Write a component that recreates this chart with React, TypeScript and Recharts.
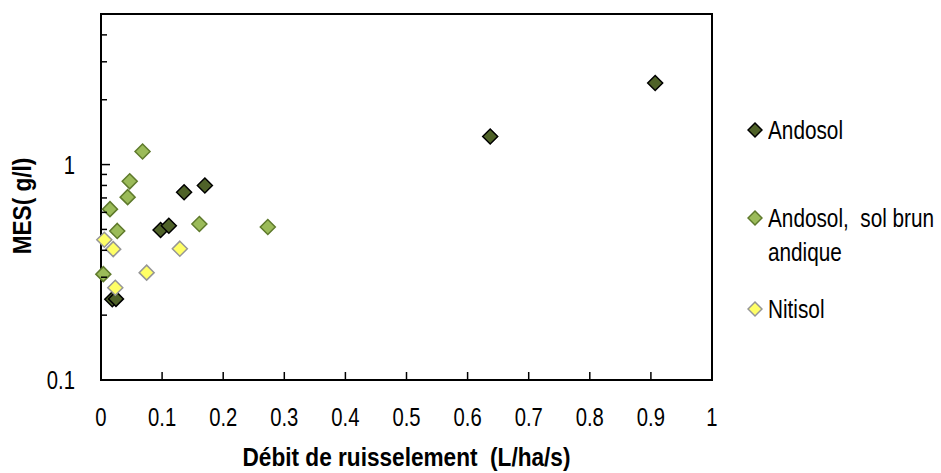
import { ScatterChart, Scatter, XAxis, YAxis, ReferenceArea, Legend } from 'recharts'

const FONT = '"Liberation Sans", Arial, sans-serif'
// the reference uses a narrow Arial; squeeze Liberation Sans horizontally instead
const NARROW = 0.81
const NARROW_BOLD = 0.87

// débit (L/ha/s) vs MES (g/l)
const ANDOSOL_X = [0.907, 0.637, 0.136, 0.17, 0.0975, 0.111, 0.0185, 0.0245]
const ANDOSOL_Y = [2.39, 1.35, 0.744, 0.8, 0.497, 0.52, 0.237, 0.238]

const BRUN_X = [0.068, 0.047, 0.0436, 0.0147, 0.0266, 0.161, 0.273, 0.0038]
const BRUN_Y = [1.15, 0.836, 0.706, 0.621, 0.492, 0.53, 0.513, 0.31]

const NITISOL_X = [0.0054, 0.02, 0.129, 0.0747, 0.0234]
const NITISOL_Y = [0.448, 0.405, 0.407, 0.315, 0.268]

const X_TICKS = [0, 0.1, 0.2, 0.3, 0.4, 0.5, 0.6, 0.7, 0.8, 0.9, 1]
const Y_TICKS = [0.1, 0.2, 0.3, 0.4, 0.5, 0.6, 0.7, 0.8, 0.9, 1, 2, 3, 4]
const Y_LABELS = [0.1, 1]

const SERIES = [
  { name: 'Andosol', xs: ANDOSOL_X, ys: ANDOSOL_Y, fill: '#4f6228', stroke: '#000000' },
  { name: 'Andosol,  sol brun andique', xs: BRUN_X, ys: BRUN_Y, fill: '#9bbb59', stroke: '#5f7a2c' },
  { name: 'Nitisol', xs: NITISOL_X, ys: NITISOL_Y, fill: '#ffff66', stroke: '#969696' },
]

function toPoints(xs: number[], ys: number[]) {
  return xs.map((x, i) => ({ x, y: ys[i] }))
}

function diamond(fill: string, stroke: string) {
  return (props: any) => {
    const { cx, cy } = props
    const r = 7.5
    return (
      <polygon
        points={`${cx},${cy - r} ${cx + r},${cy} ${cx},${cy + r} ${cx - r},${cy}`}
        fill={fill}
        stroke={stroke}
        strokeWidth={1.5}
      />
    )
  }
}

function XTick({ x, y, payload }: any) {
  return (
    <g>
      <line x1={x} y1={y} x2={x} y2={y - 8} stroke="#000" strokeWidth={1.5} />
      <text
        transform={`translate(${x},${y + 46}) scale(${NARROW},1)`}
        textAnchor="middle"
        fontFamily={FONT}
        fontSize={25}
        fill="#000"
      >
        {String(payload.value)}
      </text>
    </g>
  )
}

function YTick({ x, y, payload }: any) {
  const major = Y_LABELS.includes(payload.value)
  return (
    <g>
      <line x1={x} y1={y} x2={x + (major ? 9 : 6)} y2={y} stroke="#000" strokeWidth={1.5} />
      {major && (
        <text
          transform={`translate(${x - 26},${y + 9}) scale(${NARROW},1)`}
          textAnchor="end"
          fontFamily={FONT}
          fontSize={25}
          fill="#000"
        >
          {String(payload.value)}
        </text>
      )}
    </g>
  )
}

function XTitle({ viewBox }: any) {
  const { x, y, width } = viewBox
  return (
    <text
      transform={`translate(${x + width / 2},${y + 86}) scale(${NARROW_BOLD},1)`}
      textAnchor="middle"
      fontFamily={FONT}
      fontSize={26}
      fontWeight="bold"
      fill="#000"
      style={{ whiteSpace: 'pre' }}
    >
      Débit de ruisselement  (L/ha/s)
    </text>
  )
}

function YTitle({ viewBox }: any) {
  const { x, y, height } = viewBox
  return (
    <text
      transform={`translate(${x + 31},${y + height / 2 + 9}) rotate(-90) scale(${NARROW_BOLD},1)`}
      textAnchor="middle"
      fontFamily={FONT}
      fontSize={26}
      fontWeight="bold"
      fill="#000"
    >
      MES( g/l)
    </text>
  )
}

function LegendBox() {
  const item = (s: (typeof SERIES)[number], marginTop: number) => (
    <div key={s.name} style={{ display: 'flex', alignItems: 'flex-start', marginTop }}>
      <svg width={16} height={34} style={{ flex: 'none', marginLeft: 2 }}>
        <polygon points="8,10 15,17 8,24 1,17" fill={s.fill} stroke={s.stroke} strokeWidth={1.5} />
      </svg>
      <span
        style={{
          display: 'inline-block',
          flex: 'none',
          marginLeft: 5,
          width: 215,
          lineHeight: '34px',
          whiteSpace: 'pre-wrap',
          transform: `scaleX(${NARROW + 0.02})`,
          transformOrigin: 'left top',
        }}
      >
        {s.name}
      </span>
    </div>
  )
  return (
    <div style={{ fontFamily: FONT, fontSize: 25, color: '#000' }}>
      {item(SERIES[0], 0)}
      {item(SERIES[1], 54)}
      {item(SERIES[2], 23)}
    </div>
  )
}

export default function App() {
  return (
    <div style={{ position: 'absolute', left: 0, top: 0, background: '#fff' }}>
      <ScatterChart width={941} height={473} margin={{ top: 14, right: 229, bottom: 0, left: 0 }}>
        <ReferenceArea x1={0} x2={1} y1={0.1} y2={5} fill="none" stroke="#000" strokeWidth={2} />
        <XAxis
          type="number"
          dataKey="x"
          domain={[0, 1]}
          ticks={X_TICKS}
          interval={0}
          height={93}
          tickSize={0}
          tickMargin={0}
          tickLine={false}
          axisLine={{ stroke: '#000', strokeWidth: 2 }}
          tick={<XTick />}
          label={{ content: (p: any) => <XTitle {...p} /> }}
        />
        <YAxis
          type="number"
          dataKey="y"
          scale="log"
          domain={[0.1, 5]}
          allowDataOverflow
          ticks={Y_TICKS}
          interval={0}
          width={101}
          tickSize={0}
          tickMargin={0}
          tickLine={false}
          axisLine={{ stroke: '#000', strokeWidth: 2 }}
          tick={<YTick />}
          label={{ content: (p: any) => <YTitle {...p} /> }}
        />
        <Legend
          layout="vertical"
          align="center"
          verticalAlign="middle"
          content={<LegendBox />}
          wrapperStyle={{ left: 745, top: 113, width: 196, overflow: 'hidden' }}
        />
        {SERIES.map((s) => (
          <Scatter
            key={s.name}
            name={s.name}
            data={toPoints(s.xs, s.ys)}
            shape={diamond(s.fill, s.stroke)}
            isAnimationActive={false}
          />
        ))}
      </ScatterChart>
    </div>
  )
}
